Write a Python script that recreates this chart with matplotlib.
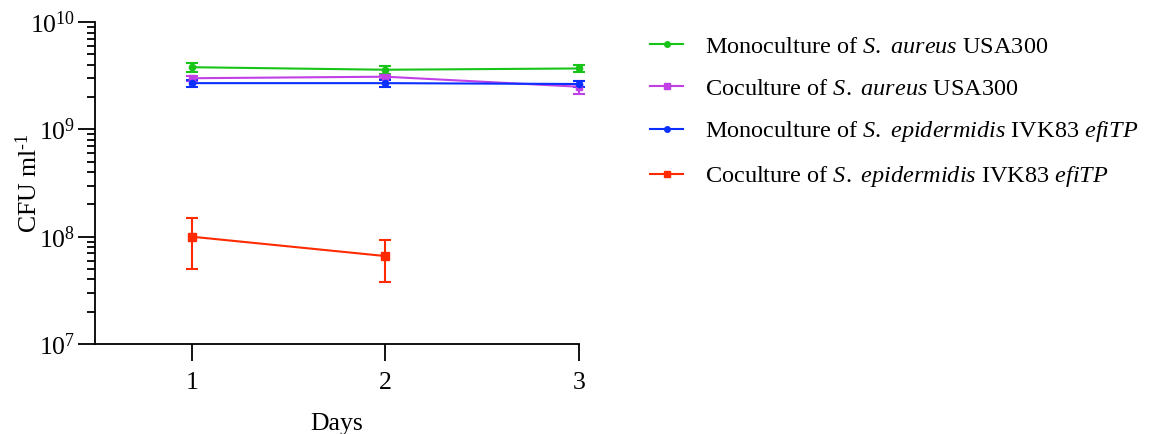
import numpy as np
import matplotlib.pyplot as plt
from matplotlib.lines import Line2D
from matplotlib.ticker import LogLocator, LogFormatterSciNotation, NullFormatter

plt.rcParams['font.family'] = ['Liberation Serif', 'DejaVu Serif']
plt.rcParams['mathtext.fontset'] = 'custom'
plt.rcParams['mathtext.rm'] = 'Liberation Serif'
plt.rcParams['mathtext.it'] = 'Liberation Serif:italic'
plt.rcParams['font.size'] = 18.5

# CFU / ml over time
days = [1, 2, 3]

mono_aureus = [3.8e9, 3.6e9, 3.7e9]
mono_aureus_err = [0.4e9, 0.3e9, 0.3e9]

co_aureus = [3.0e9, 3.1e9, 2.5e9]
co_aureus_err = [0.15e9, 0.15e9, 0.35e9]

mono_epi = [2.7e9, 2.7e9, 2.65e9]
mono_epi_err = [0.2e9, 0.2e9, 0.15e9]

co_epi_days = [1, 2]
co_epi = [1.0e8, 6.6e7]
co_epi_err = [5.0e7, 2.8e7]

labels = [
    r'Monoculture of $\mathit{S.}$ $\mathit{aureus}$ USA300',
    r'Coculture of $\mathit{S.}$ $\mathit{aureus}$ USA300',
    r'Monoculture of $\mathit{S.}$ $\mathit{epidermidis}$ IVK83 $\mathit{efiTP}$',
    r'Coculture of $\mathit{S.}$ $\mathit{epidermidis}$ IVK83 $\mathit{efiTP}$',
]

fig = plt.figure(figsize=(11.68, 4.34), dpi=100)
ax = fig.add_axes([0.0813, 0.2074, 0.4144, 0.7416])

series = [
    (days, mono_aureus, mono_aureus_err, '#17c417', 'o', 4.5),
    (days, co_aureus, co_aureus_err, '#c03fe6', 's', 5),
    (days, mono_epi, mono_epi_err, '#0a30ff', 'o', 4.5),
    (co_epi_days, co_epi, co_epi_err, '#ff2a00', 's', 5.5),
]
handles = []
for (x, y, e, c, m, ms), lab in zip(series, labels):
    ax.errorbar(x, y, yerr=e, color=c, marker=m, ms=ms, lw=1.5,
                elinewidth=1.5, capsize=4, capthick=1.5, clip_on=False)
    handles.append(Line2D([], [], color=c, marker=m, ms=ms - 0.5, lw=1.5, label=lab))

ax.set_yscale('log')
ax.set_ylim(1e7, 1e10)
ax.set_xlim(0.5, 3)
ax.set_xticks(days)
ax.yaxis.set_major_locator(LogLocator(base=10, numticks=10))
ax.yaxis.set_major_formatter(LogFormatterSciNotation())
ax.yaxis.set_minor_locator(LogLocator(base=10, subs=np.arange(2, 10), numticks=10))
ax.yaxis.set_minor_formatter(NullFormatter())

for s in ['top', 'right']:
    ax.spines[s].set_visible(False)
for s in ['left', 'bottom']:
    ax.spines[s].set_linewidth(1.3)
ax.tick_params(axis='both', which='major', length=12, width=1.3, direction='out')
ax.tick_params(axis='y', which='minor', length=6, width=1.3, direction='out')
ax.tick_params(axis='y', pad=2)
ax.tick_params(axis='x', pad=8)

ax.set_xlabel('Days', labelpad=14)
ax.set_ylabel(r'CFU ml$^{\text{-1}}$', labelpad=-8)

fig.legend(handles=handles, loc='upper left', bbox_to_anchor=(0.5565, 0.918),
           frameon=False, borderpad=0, borderaxespad=0,
           handlelength=1.36, handletextpad=0.9, labelspacing=0.82,
           fontsize=17.5)

fig.savefig('out.png', dpi=100)
